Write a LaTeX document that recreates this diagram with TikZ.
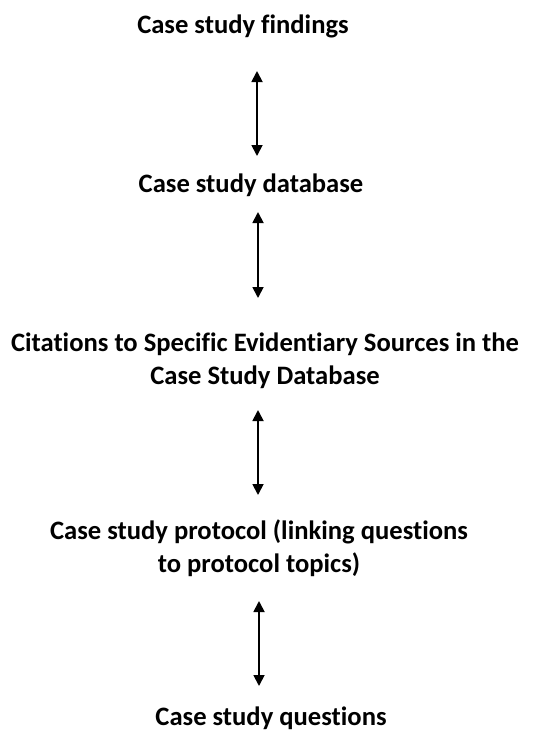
\documentclass[tikz,border=0pt]{standalone}
\usepackage{fontspec}
\setmainfont[Ligatures=NoCommon]{Carlito}
\usetikzlibrary{arrows.meta}
\begin{document}
\begin{tikzpicture}[x=1pt,y=-1pt,
  label/.style={font=\fontsize{26.6}{33}\selectfont\bfseries, align=center, inner sep=0pt},
  link/.style={line width=1.8pt, {Triangle[length=11pt,width=11pt]}-{Triangle[length=11pt,width=11pt]}}]
  \useasboundingbox[fill=white] (0,0) rectangle (533,731);
  % stages of the chain of evidence
  \node[label] (find) at (243,26) {Case study findings};
  \node[label] (db) at (251,185) {Case study database};
  \node[label] (cite) at (265,361) {Citations to Specific Evidentiary Sources in the\\Case Study Database};
  \node[label] (prot) at (259,548) {Case study protocol (linking questions\\to protocol topics)};
  \node[label] (quest) at (271,718) {Case study questions};
  % arrow end points
  \coordinate (a1t) at (257,71);  \coordinate (a1b) at (257,156);
  \coordinate (a2t) at (258,212); \coordinate (a2b) at (258,298);
  \coordinate (a3t) at (258,410); \coordinate (a3b) at (258,495);
  \coordinate (a4t) at (259,601); \coordinate (a4b) at (259,686);
  \draw[link] (a1t) -- (a1b);
  \draw[link] (a2t) -- (a2b);
  \draw[link] (a3t) -- (a3b);
  \draw[link] (a4t) -- (a4b);
\end{tikzpicture}
\end{document}
